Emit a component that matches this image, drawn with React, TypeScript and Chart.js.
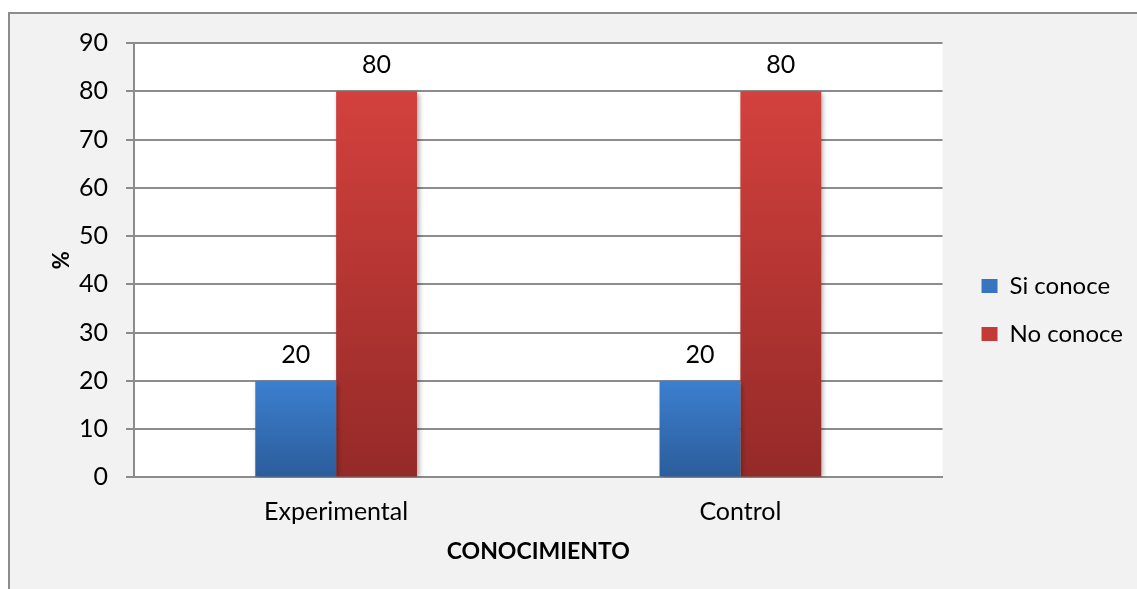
import React, { useEffect, useRef } from "react";
import { Chart, registerables } from "chart.js";

Chart.register(...registerables);

const categories = ["Experimental", "Control"];
const siConoce = [20, 20];
const noConoce = [80, 80];
const seriesNames = ["Si conoce", "No conoce"];
const yMin = 0;
const yMax = 90;
const yStep = 10;
const xTitle = "CONOCIMIENTO";
const yTitle = "%";

const FONT = "Lato, 'Open Sans', sans-serif";

const blueTop = "rgb(60,127,207)";
const blueBottom = "rgb(43,93,155)";
const redTop = "rgb(211,65,61)";
const redBottom = "rgb(148,42,40)";

function barGradient(top: string, bottom: string) {
  return (ctx: any) => {
    const chart = ctx.chart;
    const area = chart.chartArea;
    if (!area || ctx.dataIndex === undefined) return top;
    const ys = chart.scales.y;
    const v = ctx.raw ?? ctx.parsed?.y ?? 0;
    const yTopPx = ys.getPixelForValue(v);
    const yBase = ys.getPixelForValue(0);
    const g = chart.ctx.createLinearGradient(0, yTopPx, 0, yBase);
    g.addColorStop(0, top);
    g.addColorStop(1, bottom);
    return g;
  };
}

const LEGEND_EXTRA_W = 12;
const LEGEND_SHIFT_X = 15;
const LEGEND_SHIFT_Y = 6;

const legendShift = {
  id: "legendShift",
  beforeLayout(chart: any) {
    const lg = chart.legend;
    if (!lg || lg.__patched) return;
    lg.__patched = true;
    const origFit = lg.fit;
    lg.fit = function () {
      origFit.call(this);
      this.width += LEGEND_EXTRA_W;
    };
    const origDraw = lg.draw;
    lg.draw = function () {
      const l = this.left;
      const t = this.top;
      const b = this.bottom;
      this.left = l + LEGEND_SHIFT_X;
      this.top = t + LEGEND_SHIFT_Y;
      this.bottom = b + LEGEND_SHIFT_Y;
      origDraw.call(this);
      this.left = l;
      this.top = t;
      this.bottom = b;
    };
  },
};

const plotBg = {
  id: "plotBg",
  beforeDraw(chart: any) {
    const { ctx, chartArea } = chart;
    ctx.save();
    ctx.fillStyle = "#ffffff";
    ctx.fillRect(chartArea.left, chartArea.top, chartArea.right - chartArea.left, chartArea.bottom - chartArea.top);
    ctx.restore();
  },
};

const barShadow = {
  id: "barShadow",
  beforeDatasetsDraw(chart: any) {
    const ctx = chart.ctx;
    ctx.save();
    ctx.shadowColor = "rgba(0,0,0,0.35)";
    ctx.shadowBlur = 5;
    ctx.shadowOffsetX = 2;
    ctx.shadowOffsetY = 2;
  },
  afterDatasetsDraw(chart: any) {
    chart.ctx.restore();
  },
};

const dataLabels = {
  id: "dataLabels",
  afterDatasetsDraw(chart: any) {
    const ctx = chart.ctx;
    ctx.save();
    ctx.font = `25px ${FONT}`;
    ctx.fillStyle = "#000";
    ctx.textAlign = "center";
    ctx.textBaseline = "middle";
    chart.data.datasets.forEach((ds: any, i: number) => {
      const meta = chart.getDatasetMeta(i);
      meta.data.forEach((bar: any, j: number) => {
        ctx.fillText(String(ds.data[j]), bar.x, bar.y - 26);
      });
    });
    ctx.restore();
  },
};

export default function App() {
  const ref = useRef<HTMLCanvasElement>(null);
  useEffect(() => {
    document.body.style.margin = "0";
    document.body.style.overflow = "hidden";
    const chart = new Chart(ref.current!, {
      type: "bar",
      data: {
        labels: categories,
        datasets: [
          { label: seriesNames[0], data: siConoce, backgroundColor: barGradient(blueTop, blueBottom) as any },
          { label: seriesNames[1], data: noConoce, backgroundColor: barGradient(redTop, redBottom) as any },
        ],
      },
      options: {
        animation: false,
        responsive: false,
        devicePixelRatio: 1,
        layout: { padding: { top: 43, left: 49, right: 7, bottom: 24 } },
        datasets: { bar: { categoryPercentage: 0.4, barPercentage: 1.0 } },
        plugins: {
          tooltip: { enabled: false },
          legend: {
            position: "right",
            labels: {
              font: { family: FONT, size: 24 },
              color: "#000",
              boxWidth: 16,
              boxHeight: 14,
              padding: 24,
              generateLabels: () => [
                { text: seriesNames[0], fillStyle: "rgb(55,117,193)", strokeStyle: "rgb(55,117,193)", lineWidth: 0, datasetIndex: 0 } as any,
                { text: seriesNames[1], fillStyle: "rgb(196,58,55)", strokeStyle: "rgb(196,58,55)", lineWidth: 0, datasetIndex: 1 } as any,
              ],
            },
          },
        },
        scales: {
          x: {
            grid: { display: false, drawTicks: false },
            border: { display: true, color: "#8c8c8c", width: 2 },
            ticks: { font: { family: FONT, size: 25 }, color: "#000", padding: 20 },
            title: { display: true, text: xTitle, font: { family: FONT, size: 23, weight: "bold" }, color: "#000", padding: { top: -10, bottom: 0 } },
          },
          y: {
            min: yMin,
            max: yMax,
            ticks: { stepSize: yStep, font: { family: FONT, size: 25 }, color: "#000", padding: 18 },
            grid: { color: "#8c8c8c", lineWidth: 2, tickLength: 8, drawTicks: true },
            border: { display: true, color: "#8c8c8c", width: 2 },
            title: { display: true, text: yTitle, font: { family: FONT, size: 22, weight: "bold" }, color: "#000", padding: { top: 0, bottom: 0 } },
            afterFit: (s: any) => { s.width = 85; },
          },
        },
      },
      plugins: [legendShift, plotBg, barShadow, dataLabels],
    });
    return () => chart.destroy();
  }, []);
  return (
    <div style={{ position: "relative", width: 1137, height: 589, overflow: "hidden", background: "#fff" }}>
      <div style={{ position: "absolute", left: 8, top: 12, width: 1200, height: 700, border: "2px solid #8c8c8c", background: "#f2f2f2", boxSizing: "border-box" }} />
      <canvas ref={ref} width={1137} height={589} style={{ position: "absolute", left: 0, top: 0, width: 1137, height: 589 }} />
    </div>
  );
}
